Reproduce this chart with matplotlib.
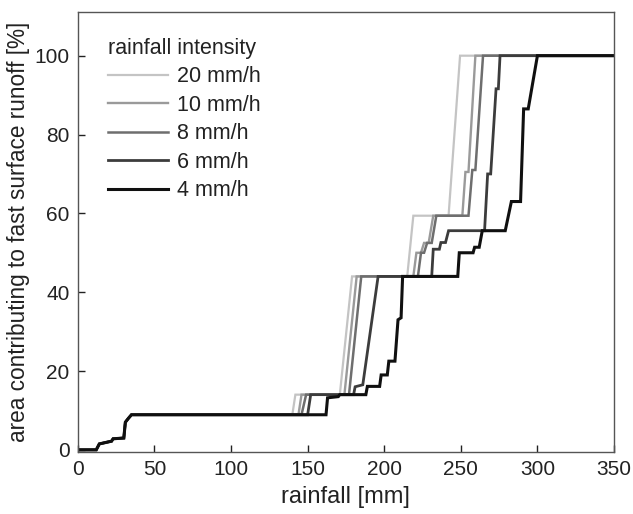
import matplotlib
matplotlib.use("Agg")
import matplotlib.pyplot as plt

plt.rcParams['font.family'] = ['Liberation Sans', 'DejaVu Sans']

labels = ["20 mm/h", "10 mm/h", "8 mm/h", "6 mm/h", "4 mm/h"]
colors = ["#c4c4c4", "#9a9a9a", "#6e6e6e", "#3c3c3c", "#101010"]
widths = [1.6, 1.7, 1.8, 2.0, 2.2]

x_start = [0, 12, 14, 22, 23, 30, 31, 33, 35]
y_start = [0, 0, 1.5, 2.2, 2.8, 3, 7, 8, 8.9]

x20 = x_start + [140, 142, 171, 179, 215, 219, 242, 249.5, 350]
y20 = y_start + [8.9, 14, 14, 44, 44, 59.4, 59.4, 100, 100]
x10 = x_start + [144, 146, 174, 182, 219, 221, 224, 226, 229, 232, 251, 253, 255, 259.5, 350]
y10 = y_start + [8.9, 14, 14, 44, 44, 50, 50, 52.5, 52.5, 59.4, 59.4, 70.5, 70.5, 100, 100]
x8 = x_start + [146, 149, 177, 185, 222, 224, 226, 228, 231, 234, 255, 257.5, 259.5, 264.5, 350]
y8 = y_start + [8.9, 14, 14, 44, 44, 50, 50, 52.5, 52.5, 59.4, 59.4, 71, 71, 100, 100]
x6 = x_start + [150, 152, 180, 181, 186, 196, 231, 232, 236, 237, 240, 242, 265.5, 267.5, 269.5, 273, 274.5,
                275.6, 350]
y6 = y_start + [8.9, 14, 14, 16, 16.5, 44, 44, 50.9, 50.9, 52.6, 52.6, 55.6, 55.6, 70, 70, 91.6, 91.6,
                100, 100]
x4 = x_start + [162, 163, 170, 171, 188, 189, 197, 198, 202, 203, 207, 209, 211, 212, 248, 249, 258, 259,
                262, 264, 279, 283, 289, 291, 294, 300, 350]
y4 = y_start + [8.9, 13.2, 13.5, 14, 14, 16.1, 16.1, 19, 19, 22.5, 22.5, 33, 33.5, 44, 44, 50, 50, 51.4,
                51.4, 55.6, 55.6, 63, 63, 86.5, 86.5, 100, 100]

series_x = [x20, x10, x8, x6, x4]
series_y = [y20, y10, y8, y6, y4]

xticks = [0, 50, 100, 150, 200, 250, 300, 350]
yticks = [0, 20, 40, 60, 80, 100]

fig = plt.figure(figsize=(6.33, 5.14), dpi=100)
ax = fig.add_axes([0.123, 0.121, 0.847, 0.855])

for xs, ys, c, w, lab in zip(series_x, series_y, colors, widths, labels):
    ax.plot(xs, ys, color=c, lw=w, label=lab, solid_joinstyle='miter')

ax.set_xlim(0, 350)
ax.set_ylim(-0.5, 111)
ax.set_xticks(xticks)
ax.set_yticks(yticks)
ax.tick_params(direction='in', length=5, width=1, labelsize=15, colors='#222222', pad=6)
for s in ax.spines.values():
    s.set_color('#555555')
    s.set_linewidth(1.0)

ax.set_xlabel("rainfall [mm]", fontsize=17, color='#222222', labelpad=5)
ax.set_ylabel("area contributing to fast surface runoff [%]", fontsize=16.3, color='#222222', labelpad=3)

leg = ax.legend(title="rainfall intensity", loc='upper left', frameon=False, fontsize=15.5,
                title_fontsize=15.5, handlelength=2.75, handletextpad=0.45, labelspacing=0.35,
                bbox_to_anchor=(0.033, 0.972), borderaxespad=0.2)
leg._legend_box.align = "left"
for t in leg.get_texts():
    t.set_color('#222222')
leg.get_title().set_color('#222222')

fig.savefig("out.png", dpi=100)
